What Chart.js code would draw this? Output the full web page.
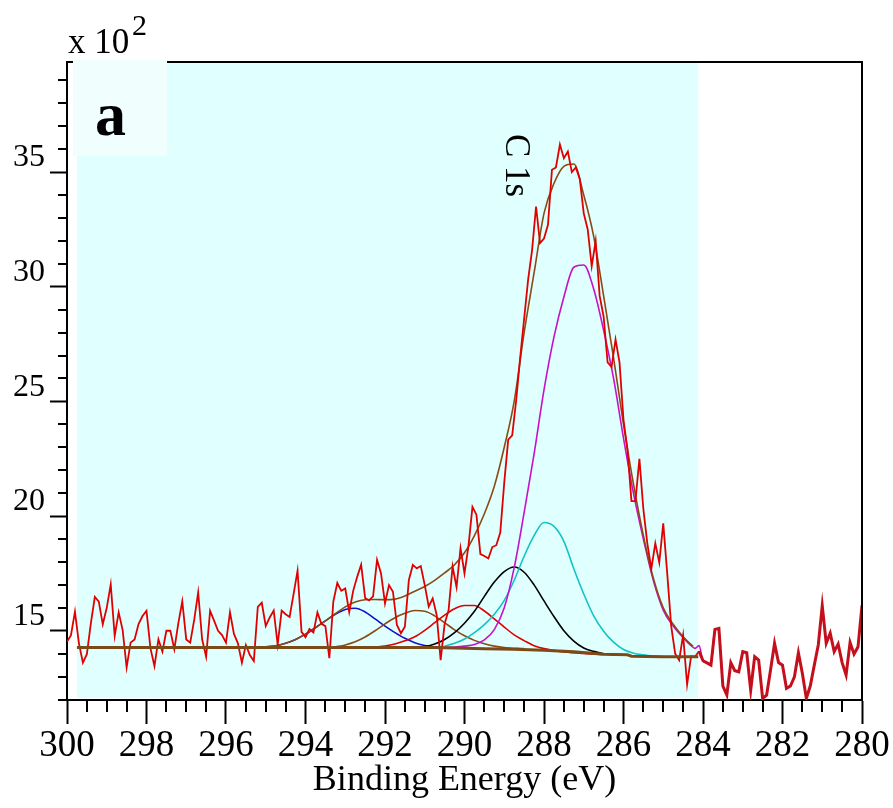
<!DOCTYPE html>
<html>
<head>
<meta charset="utf-8">
<script src="https://cdn.jsdelivr.net/npm/chart.js@4.4.1/dist/chart.umd.min.js"></script>
<style>
  html, body { margin: 0; padding: 0; background: #fff; }
  #wrap { width: 893px; height: 808px; }
</style>
</head>
<body>
<div id="wrap"><canvas id="xps" width="893" height="808"></canvas></div>
<script>
// C 1s spectrum: raw counts every 0.1 eV from 300 eV down to 280 eV (x 10^2 counts)
const rawStart = 300;
const rawStep = 0.1;
const rawCounts = [
  14.52, 14.81, 15.83, 14.45, 13.61, 13.98, 15.32, 16.48, 16.27, 15.28,
  16.00, 17.02, 14.78, 15.80, 15.03, 13.40, 14.48, 14.62, 15.29, 15.64,
  15.87, 14.23, 13.46, 14.62, 14.09, 15.00, 15.00, 14.19, 15.32, 16.28,
  14.62, 14.48, 15.47, 16.67, 14.62, 13.87, 15.87, 15.44, 15.00, 14.81,
  14.48, 15.80, 14.86, 14.45, 13.61, 14.38, 13.94, 13.68, 16.04, 16.22,
  15.21, 15.58, 15.88, 14.40, 15.88, 15.72, 15.60, 16.60, 17.62, 14.95,
  14.72, 15.08, 14.92, 15.80, 15.30, 15.20, 13.80, 16.27, 17.08, 16.74,
  16.84, 15.81, 16.74, 17.35, 17.88, 16.43, 16.32, 16.50, 18.09, 17.50,
  16.19, 16.99, 16.70, 15.25, 14.89, 15.18, 17.21, 17.87, 17.72, 17.82,
  16.99, 16.05, 16.41, 15.69, 13.72, 15.30, 15.90, 17.80, 16.90, 18.60,
  17.50, 18.70, 20.40, 20.06, 18.34, 18.26, 18.15, 18.65, 18.73, 19.28,
  21.46, 23.33, 23.52, 25.04, 26.90, 28.60, 30.30, 31.60, 33.50, 31.90,
  32.10, 32.70, 35.10, 35.20, 36.20, 35.60, 35.90, 35.00, 35.20, 34.70,
  33.20, 32.50, 30.90, 32.00, 29.60, 28.70, 26.70, 26.50, 27.70, 26.70,
  24.20, 22.90, 20.65, 20.65, 22.50, 20.30, 18.80, 17.70, 18.81, 17.97,
  19.68, 17.50, 15.20, 14.00, 13.72, 14.81, 12.65, 13.88, 13.87, 14.11,
  13.69, 13.60, 13.50, 15.06, 15.10, 12.59, 12.20, 13.61, 13.26, 13.21,
  14.09, 14.04, 12.41, 13.87, 13.72, 12.05, 12.19, 13.30, 14.45, 13.61,
  13.50, 12.49, 12.59, 12.99, 14.04, 13.14, 12.05, 12.60, 13.50, 14.38,
  16.09, 14.45, 14.89, 14.09, 14.42, 13.61, 13.07, 14.49, 13.98, 14.30,
  16.10
];

// fitted region
const fitStart = 299.75;
const fitEnd = 284.12;

const bgEnergy = [299.75, 290.75, 290.25, 289.5, 288.75, 288.0, 287.25, 286.5, 285.9, 285.8, 285.0, 284.12];
const bgCounts = [14.27, 14.27, 14.25, 14.22, 14.19, 14.15, 14.08, 13.97, 13.95, 13.89, 13.87, 13.87];

const blueEnergy = [295.25, 295, 294.75, 294.5, 294.25, 294, 293.75, 293.5, 293.25, 293, 292.75, 292.5, 292.25, 292, 291.75, 291.5, 291.25, 291, 290.75, 290.5];
const blueCounts = [14.27, 14.30, 14.34, 14.45, 14.62, 14.85, 15.13, 15.43, 15.72, 15.93, 15.98, 15.82, 15.52, 15.20, 14.92, 14.67, 14.48, 14.36, 14.29, 14.27];

const brownEnergy = [293.25, 293, 292.75, 292.5, 292.25, 292, 291.75, 291.5, 291.25, 291, 290.75, 290.5, 290.25, 290, 289.75, 289.5, 289.25, 289, 288.5];
const brownCounts = [14.29, 14.38, 14.52, 14.73, 15.00, 15.30, 15.57, 15.76, 15.88, 15.85, 15.65, 15.35, 15.04, 14.78, 14.58, 14.43, 14.33, 14.27, 14.22];

const redEnergy = [292.25, 292, 291.75, 291.5, 291.25, 291, 290.75, 290.5, 290.25, 290, 289.75, 289.5, 289.25, 289, 288.75, 288.5, 288.25, 288, 287.5, 287, 286.5];
const redCounts = [14.28, 14.33, 14.42, 14.56, 14.74, 15.02, 15.35, 15.68, 15.96, 16.10, 16.10, 15.86, 15.52, 15.16, 14.82, 14.57, 14.35, 14.22, 14.08, 14.01, 13.97];

const blackEnergy = [291.5, 291.25, 291, 290.75, 290.5, 290.25, 290, 289.75, 289.5, 289.25, 289, 288.75, 288.5, 288.25, 288, 287.75, 287.5, 287.25, 287, 286.75, 286.5, 286.25];
const blackCounts = [14.25, 14.27, 14.31, 14.42, 14.62, 14.92, 15.33, 15.85, 16.50, 17.12, 17.58, 17.78, 17.55, 17.00, 16.30, 15.62, 15.00, 14.55, 14.25, 14.10, 14.00, 13.95];

const cyanEnergy = [290.5, 290.25, 290, 289.75, 289.5, 289.25, 289, 288.75, 288.5, 288.25, 288, 287.75, 287.5, 287.25, 287, 286.75, 286.5, 286.25, 286, 285.75, 285.5, 285.25, 285];
const cyanCounts = [14.33, 14.45, 14.64, 14.92, 15.27, 15.72, 16.32, 17.20, 18.25, 19.15, 19.72, 19.55, 18.90, 17.70, 16.60, 15.65, 14.98, 14.50, 14.18, 14.02, 13.95, 13.90, 13.87];

const magentaEnergy = [290.5, 290.25, 290, 289.75, 289.5, 289.25, 289, 288.75, 288.5, 288.25, 288, 287.75, 287.5, 287.25, 287, 286.75, 286.5, 286.25, 286, 285.75, 285.5, 285.25, 285, 284.75, 284.5, 284.3, 284.2, 284.1, 284.0, 283.9, 283.8, 283.7, 283.6];
const magentaCounts = [14.27, 14.29, 14.33, 14.40, 14.60, 15.05, 16.00, 17.75, 20.15, 22.70, 25.50, 27.80, 29.55, 30.85, 30.95, 29.90, 28.10, 26.00, 23.40, 21.00, 19.00, 17.20, 15.90, 15.20, 14.70, 14.35, 14.23, 14.35, 13.69, 13.60, 13.50, 15.06, 15.10];

const envelopeEnergy = [295, 294.75, 294.5, 294.25, 294, 293.75, 293.5, 293.25, 293, 292.75, 292.5, 292.25, 292, 291.75, 291.5, 291.25, 291, 290.75, 290.5, 290.25, 290, 289.75, 289.5, 289.25, 289, 288.75, 288.5, 288.25, 288, 287.75, 287.5, 287.25, 287, 286.75, 286.5, 286.25, 286, 285.75, 285.5, 285.25, 285, 284.75, 284.5, 284.25];
const envelopeCounts = [14.30, 14.34, 14.45, 14.62, 14.85, 15.13, 15.43, 15.74, 16.04, 16.25, 16.35, 16.36, 16.35, 16.38, 16.52, 16.72, 16.93, 17.20, 17.52, 17.88, 18.40, 19.15, 20.10, 21.30, 23.00, 25.00, 28.00, 30.60, 33.20, 34.50, 35.25, 35.35, 34.00, 32.20, 29.60, 26.90, 24.00, 21.40, 19.15, 17.30, 16.00, 15.28, 14.74, 14.32];

const xTickValues = [300, 298, 296, 294, 292, 290, 288, 286, 284, 282, 280];
const yTickValues = [15, 20, 25, 30, 35];

const serif = "'Liberation Serif', 'Times New Roman', Times, serif";

const pairs = (xs, ys) => xs.map((x, i) => ({ x, y: ys[i] }));
const rawPoints = rawCounts.map((y, i) => ({ x: rawStart - i * rawStep, y }));

const curve = (label, xs, ys, color, extra = {}) => ({
  label,
  data: pairs(xs, ys),
  borderColor: color,
  borderWidth: 1.6,
  pointRadius: 0,
  cubicInterpolationMode: 'monotone',
  ...extra,
});

// cyan fit window, frame, minor ticks and annotations
const decor = {
  id: 'decor',
  beforeDatasetsDraw(chart) {
    const { ctx, chartArea, scales: { x } } = chart;
    const left = x.getPixelForValue(fitStart);
    const right = x.getPixelForValue(fitEnd);
    ctx.save();
    ctx.fillStyle = '#e0ffff';
    ctx.fillRect(left, chartArea.top, right - left, chartArea.bottom - 2 - chartArea.top);
    ctx.restore();
  },
  afterDraw(chart) {
    const { ctx, chartArea: { left, right, top, bottom }, scales: { x, y } } = chart;
    ctx.save();
    ctx.strokeStyle = '#000';
    ctx.lineWidth = 2;
    ctx.beginPath();
    ctx.moveTo(left - 1, top);
    ctx.lineTo(right, top);
    ctx.lineTo(right, bottom);
    ctx.stroke();

    ctx.beginPath();
    for (let v = 280.5; v < 300; v += 0.5) {
      if (v % 2 === 0) continue;
      const px = Math.round(x.getPixelForValue(v));
      ctx.moveTo(px, bottom);
      ctx.lineTo(px, bottom + 12);
    }
    for (let v = 12; v <= 39; v++) {
      if (v % 5 === 0) continue;
      const py = Math.round(y.getPixelForValue(v));
      ctx.moveTo(left - 9, py);
      ctx.lineTo(left, py);
    }
    ctx.stroke();

    // panel letter box
    ctx.fillStyle = '#f0fefe';
    ctx.fillRect(73, 60, 94, 96);
    ctx.fillStyle = '#000';
    ctx.textBaseline = 'alphabetic';
    ctx.textAlign = 'left';
    ctx.font = `bold 62px ${serif}`;
    ctx.fillText('a', 95, 135);

    ctx.font = `35px ${serif}`;
    ctx.fillText('x 10', 68, 53);
    ctx.font = `30px ${serif}`;
    ctx.fillText('2', 132, 35);

    ctx.translate(506, 134);
    ctx.rotate(Math.PI / 2);
    ctx.font = `35px ${serif}`;
    ctx.fillText('C 1s', 0, 0);
    ctx.restore();
  },
};

new Chart(document.getElementById('xps'), {
  type: 'line',
  data: {
    datasets: [
      curve('Background', bgEnergy, bgCounts, '#7b4a16', { borderWidth: 3, cubicInterpolationMode: 'default', tension: 0 }),
      {
        label: 'Raw',
        data: rawPoints,
        borderColor: '#e00000',
        borderWidth: 1.8,
        pointRadius: 0,
        tension: 0,
        segment: {
          borderColor: (c) => (c.p0.parsed.x < fitEnd ? '#c3101c' : '#e00000'),
          borderWidth: (c) => (c.p0.parsed.x < fitEnd ? 3 : 1.8),
        },
      },
      curve('Envelope', envelopeEnergy, envelopeCounts, '#8b4a14'),
      curve('C-C', magentaEnergy, magentaCounts, '#c810c8'),
      curve('C-OH', cyanEnergy, cyanCounts, '#12c4c4'),
      curve('C-O-C', blackEnergy, blackCounts, '#000000'),
      curve('C=O', redEnergy, redCounts, '#e00000'),
      curve('O-C=O', brownEnergy, brownCounts, '#8b4a14'),
      curve('pi-pi*', blueEnergy, blueCounts, '#1212cc'),
    ],
  },
  options: {
    responsive: false,
    animation: false,
    layout: { padding: { left: 0, top: 62, right: 31, bottom: 0 } },
    plugins: { legend: { display: false }, tooltip: { enabled: false } },
    scales: {
      x: {
        type: 'linear',
        reverse: true,
        min: 280,
        max: 300,
        afterBuildTicks: (s) => { s.ticks = xTickValues.map((value) => ({ value })); },
        afterFit: (s) => { s.height = 108; },
        grid: { drawOnChartArea: false, tickLength: 24, tickColor: '#000', tickWidth: 2 },
        border: { display: true, color: '#000', width: 2 },
        ticks: {
          color: '#000',
          font: { family: serif, size: 37 },
          padding: 0,
          maxRotation: 0,
          autoSkip: false,
          callback: (v) => String(v),
        },
        title: {
          display: true,
          text: 'Binding Energy (eV)',
          color: '#000',
          font: { family: serif, size: 36 },
          padding: { top: 0, bottom: 6 },
        },
      },
      y: {
        type: 'linear',
        min: 11.98,
        max: 39.8,
        afterBuildTicks: (s) => { s.ticks = yTickValues.map((value) => ({ value })); },
        afterFit: (s) => { s.width = 67; },
        grid: { drawOnChartArea: false, tickLength: 17, tickColor: '#000', tickWidth: 2 },
        border: { display: true, color: '#000', width: 2 },
        ticks: {
          color: '#000',
          font: { family: serif, size: 32 },
          padding: 5,
          labelOffset: -14,
          callback: (v) => String(v),
        },
      },
    },
  },
  plugins: [decor],
});
</script>
</body>
</html>
